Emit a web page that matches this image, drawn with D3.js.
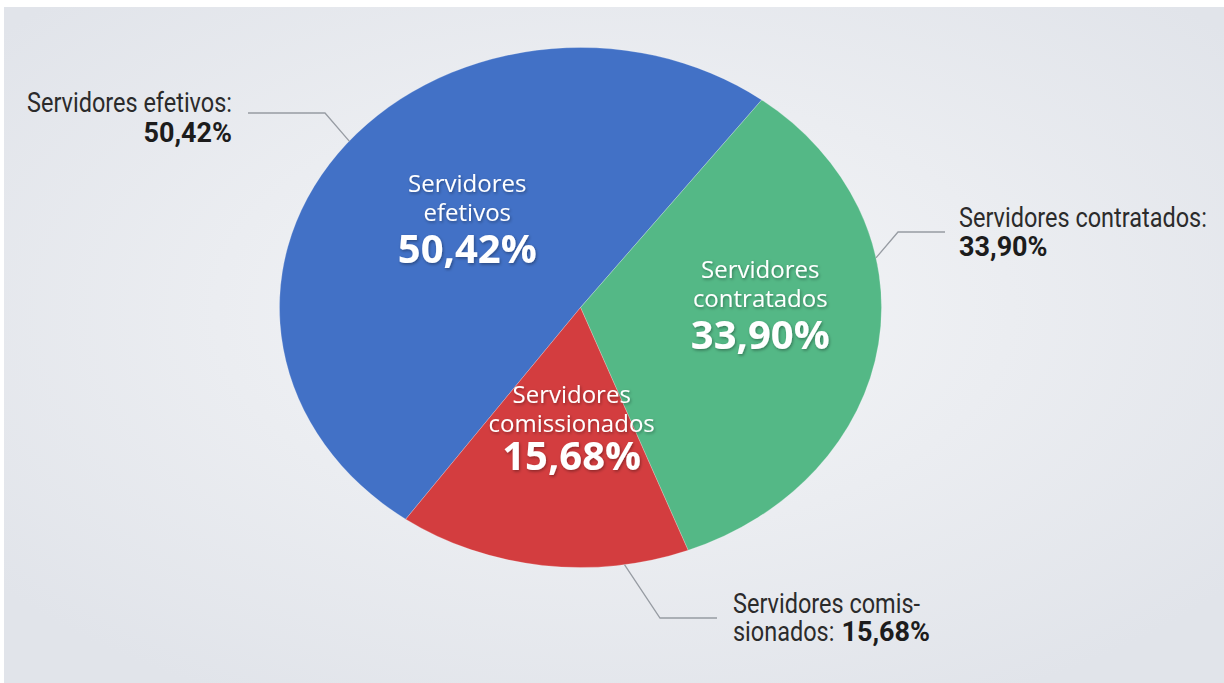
<!DOCTYPE html>
<html>
<head>
<meta charset="utf-8">
<script src="https://d3js.org/d3.v7.min.js"></script>
<style>
  html, body { margin: 0; padding: 0; background: #ffffff; }
  svg { display: block; }
</style>
</head>
<body>
<div id="chart"></div>
<script>
// Data
var categories = ["Servidores efetivos", "Servidores contratados", "Servidores comissionados"];
var shares = [50.42, 33.90, 15.68];
var shareLabels = ["50,42%", "33,90%", "15,68%"];
var innerLines = [["Servidores", "efetivos"], ["Servidores", "contratados"], ["Servidores", "comissionados"]];
var colors = ["#4271c6", "#54b886", "#d33d3f"];

var width = 1224, height = 683;
var cx = 580.5, cy = 307.5, rx = 301, ry = 260;

var svg = d3.select("#chart").append("svg")
    .attr("width", width)
    .attr("height", height);

var defs = svg.append("defs");
var bg = defs.append("radialGradient").attr("id", "bg")
    .attr("cx", "50%").attr("cy", "45%").attr("r", "65%");
bg.append("stop").attr("offset", "0%").attr("stop-color", "#f5f6f8");
bg.append("stop").attr("offset", "100%").attr("stop-color", "#e1e4ea");

var shadow = defs.append("filter").attr("id", "txtShadow")
    .attr("x", "-20%").attr("y", "-20%").attr("width", "140%").attr("height", "140%");
shadow.append("feDropShadow").attr("dx", 1).attr("dy", 1.5)
    .attr("stdDeviation", 1.5).attr("flood-color", "#000").attr("flood-opacity", 0.35);

// background with thin white frame on top/left
svg.append("rect").attr("x", 4).attr("y", 7)
    .attr("width", width - 4).attr("height", height - 7)
    .attr("fill", "url(#bg)");

// Pie (elliptical: circle scaled horizontally)
var startA = -144.5 * Math.PI / 180;
var pie = d3.pie().sort(null).value(function (d) { return d; })
    .startAngle(startA).endAngle(startA + 2 * Math.PI);
var arcs = pie(shares);
var arc = d3.arc().innerRadius(0).outerRadius(ry);

var pieG = svg.append("g")
    .attr("transform", "translate(" + cx + "," + cy + ") scale(" + (rx / ry) + ",1)");

pieG.selectAll("path")
    .data(arcs)
    .enter()
    .append("path")
    .attr("d", arc)
    .attr("fill", function (d, i) { return colors[i]; })
    .attr("stroke", "#ffffff")
    .attr("stroke-opacity", 0.25)
    .attr("stroke-width", 0.8);

// point on ellipse at fraction k of radius along angle a
function ept(a, k) {
    return [cx + Math.sin(a) * rx * k, cy - Math.cos(a) * ry * k];
}

// inner labels
var innerK = [0.52, 0.62, 0.52];
var innerShift = [[13, 4], [-5, -12], [11, 1]];
var valueGap = [42, 42, 38];

var inner = svg.append("g").attr("filter", "url(#txtShadow)");
arcs.forEach(function (d, i) {
    var mid = (d.startAngle + d.endAngle) / 2;
    var p = ept(mid, innerK[i]);
    var x = p[0] + innerShift[i][0], y = p[1] + innerShift[i][1];
    var t = inner.append("text")
        .attr("x", x).attr("y", y - 40)
        .attr("text-anchor", "middle")
        .attr("fill", "#ffffff")
        .style("font-family", "'Open Sans', sans-serif");
    t.append("tspan").attr("x", x).attr("dy", 0)
        .style("font-size", "24px").text(innerLines[i][0]);
    t.append("tspan").attr("x", x).attr("dy", 29)
        .style("font-size", "24px").text(innerLines[i][1]);
    t.append("tspan").attr("x", x).attr("dy", valueGap[i])
        .style("font-size", "40px").style("font-weight", 700).text(shareLabels[i]);
});

// leader lines: angle on pie edge, elbow, end
var lineColor = "#979ca3";
var leaderAngles = [-50.2, 79.0, 171.6];
var elbows = [[325, 113], [898, 232], [660, 618]];
var ends = [[248, 113], [945, 232], [717, 618]];

leaderAngles.forEach(function (deg, i) {
    var p = ept(deg * Math.PI / 180, 1);
    svg.append("polyline")
        .attr("points", [p, elbows[i], ends[i]].map(function (q) { return q.join(","); }).join(" "))
        .attr("fill", "none")
        .attr("stroke", lineColor)
        .attr("stroke-width", 1.3);
});

// outer labels: regular text slightly condensed, bold values
var outer = svg.append("g")
    .style("font-family", "Roboto, sans-serif")
    .attr("fill", "#2b2b2b");
var squeeze = 0.87;

function regular(x, y, anchor, str) {
    return outer.append("text")
        .attr("transform", "translate(" + x + "," + y + ") scale(" + squeeze + ",1)")
        .attr("text-anchor", anchor)
        .style("font-size", "27px")
        .text(str);
}
function bold(x, y, anchor, str) {
    return outer.append("text")
        .attr("x", x).attr("y", y)
        .attr("text-anchor", anchor)
        .style("font-size", "27px")
        .style("font-weight", 700)
        .attr("fill", "#1c1c1c")
        .text(str);
}

// efetivos (left side, right aligned)
regular(232, 112, "end", categories[0] + ":");
bold(232, 142, "end", shareLabels[0]);

// contratados (right side)
regular(959, 227, "start", categories[1] + ":");
bold(959, 256, "start", shareLabels[1]);

// comissionados (hyphenated)
regular(733, 613, "start", "Servidores comis-");
var part = regular(733, 641, "start", "sionados:");
var w = part.node().getComputedTextLength() * squeeze;
bold(733 + w + 7, 641, "start", shareLabels[2]);
</script>
</body>
</html>
